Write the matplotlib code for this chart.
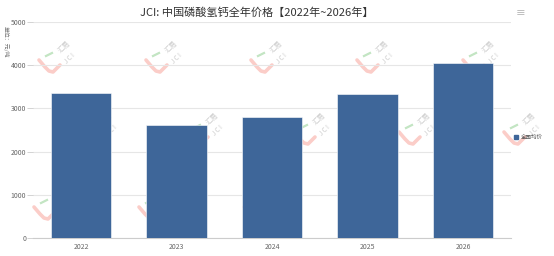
import numpy as np
import matplotlib.pyplot as plt
from matplotlib.lines import Line2D

plt.rcParams['font.family'] = ['Noto Sans CJK SC', 'DejaVu Sans']

# data
years = ['2022', '2023', '2024', '2025', '2026']
price = [3350, 2620, 2800, 3340, 4050]
yticks = [0, 1000, 2000, 3000, 4000, 5000]

W, H = 554, 256
fig = plt.figure(figsize=(W / 100, H / 100), dpi=100)
ax = fig.add_axes([0.06, 0.069, 0.862, 0.846])
ax.patch.set_alpha(0)


# faint "汇易 JCI" watermarks behind the plot (pixel coords, y from top)
def watermark(px, py):
    def f(dx, dy):
        return (px + dx) / W, 1 - (py + dy) / H
    pts = [f(-11, -5), f(-5, 2), f(-1, 6), f(3, 7), f(10, 0)]
    fig.add_artist(Line2D([p[0] for p in pts], [p[1] for p in pts], color='#fbcdc8',
                          linewidth=2.6, solid_capstyle='round', zorder=-2))
    g = [f(-4, -9), f(2, -12)]
    fig.add_artist(Line2D([g[0][0], g[1][0]], [g[0][1], g[1][1]], color='#c3e5c3',
                          linewidth=1.6, zorder=-2))
    x1, y1 = f(15, -18)
    fig.text(x1, y1, '汇易', rotation=45, fontsize=5, color='#cccccc', ha='center', va='center', zorder=-2)
    x2, y2 = f(20, -7)
    fig.text(x2, y2, 'J C I', rotation=45, fontsize=4.5, color='#cccccc', ha='center', va='center', zorder=-2)


for wx in [50, 157, 262, 368, 474]:
    watermark(wx, 65)
for wx in [92, 198, 305, 410, 515]:
    watermark(wx, 137)
for wx in [45, 150, 255, 360, 465]:
    watermark(wx, 212)

x = np.arange(len(years))
ax.bar(x, price, width=0.635, color='#3e6699', edgecolor='white', linewidth=0.4, zorder=3)
ax.set_xlim(-0.5, len(years) - 0.5)
ax.set_ylim(0, 5000)
ax.set_yticks(yticks)
ax.set_xticks(x)
ax.set_xticklabels(years)
ax.tick_params(axis='both', labelsize=5, colors='#666666', length=0, pad=3)
ax.tick_params(axis='y', length=4, color='#cccccc', width=0.6, pad=1)
ax.grid(axis='y', color='#e6e6e6', linewidth=0.8, zorder=0)
for s in ['top', 'right', 'left']:
    ax.spines[s].set_visible(False)
ax.spines['bottom'].set_color('#cccccc')
ax.spines['bottom'].set_linewidth(0.8)

fig.text(5.5 / W, 1 - 26 / H, '单位：元/吨', rotation=-90, fontsize=4.2, color='#777777',
         ha='center', va='top')

fig.text(0.464, 1 - 12.5 / H, 'JCI: 中国磷酸氢钙全年价格【2022年~2026年】', ha='center', va='center',
         fontsize=8, color='#333333')
fig.text(0.94, 1 - 12 / H, '≡', ha='center', va='center', fontsize=7, color='#aaaaaa')

handle = Line2D([], [], marker='s', color='#3e6699', linestyle='none', markersize=3.3)
ax.legend([handle], ['全国均价'], loc='center left', bbox_to_anchor=(1.0, 0.465), frameon=False,
          fontsize=4, handlelength=0.8, handletextpad=0.4, borderaxespad=0.2,
          labelcolor='#555555')

plt.savefig('out.png', dpi=100)
